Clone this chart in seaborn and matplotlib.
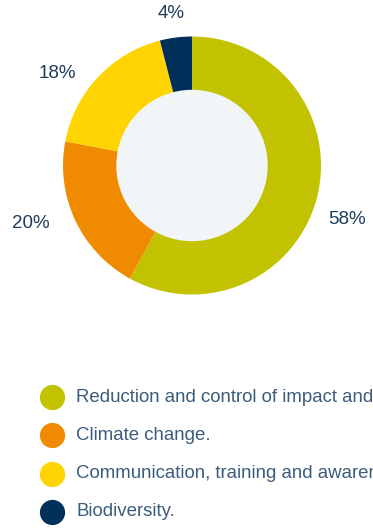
import matplotlib
matplotlib.use("Agg")
import matplotlib.pyplot as plt
import seaborn as sns

# Share of actions by environmental area
categories = [
    "Reduction and control of impact and",
    "Climate change.",
    "Communication, training and awareness",
    "Biodiversity.",
]
shares = [58, 20, 18, 4]
colors = ["#C2C200", "#F08A00", "#FFD400", "#00305A"]

sns.set_theme(style="white")
plt.rcParams["font.family"] = ["Liberation Sans", "DejaVu Sans"]

W, H = 373, 532
fig = plt.figure(figsize=(W / 100, H / 100), dpi=100)
fig.patch.set_facecolor("white")
ax = fig.add_axes([0, 0, 1, 1])

cx, cy = 192, H - 165.5
R = 129
wedges, _, pcts = ax.pie(
    shares,
    colors=colors,
    startangle=90,
    counterclock=False,
    radius=R,
    center=(cx, cy),
    autopct=lambda p: f"{p:.0f}%",
    pctdistance=1.28,
    wedgeprops=dict(width=R - 75, linewidth=0),
    textprops=dict(color="#1E3D5F", fontsize=13.5),
)
# percentage labels sit just outside the ring
label_xy = [(347, 219), (31, 224), (57, 74), (171, 14)]
for t, (x, y) in zip(pcts, label_xy):
    t.set_position((x, H - y))
    t.set_va("center")
    t.set_ha("center")

# light inner disc
ax.add_patch(plt.Circle((cx, cy), 75, color="#F2F5F7", zorder=3))

ax.set_xlim(0, W)
ax.set_ylim(0, H)
ax.set_axis_off()

# legend rows
for i, (lab, col) in enumerate(zip(categories, colors)):
    y = H - (397 + i * 38.3)
    ax.scatter([52], [y], s=330, color=col, zorder=4, linewidths=0)
    ax.text(76, y, lab, color="#3B5C7E", fontsize=13.4, va="center", ha="left",
            clip_on=False)

fig.savefig("out.png", dpi=100, facecolor="white")
